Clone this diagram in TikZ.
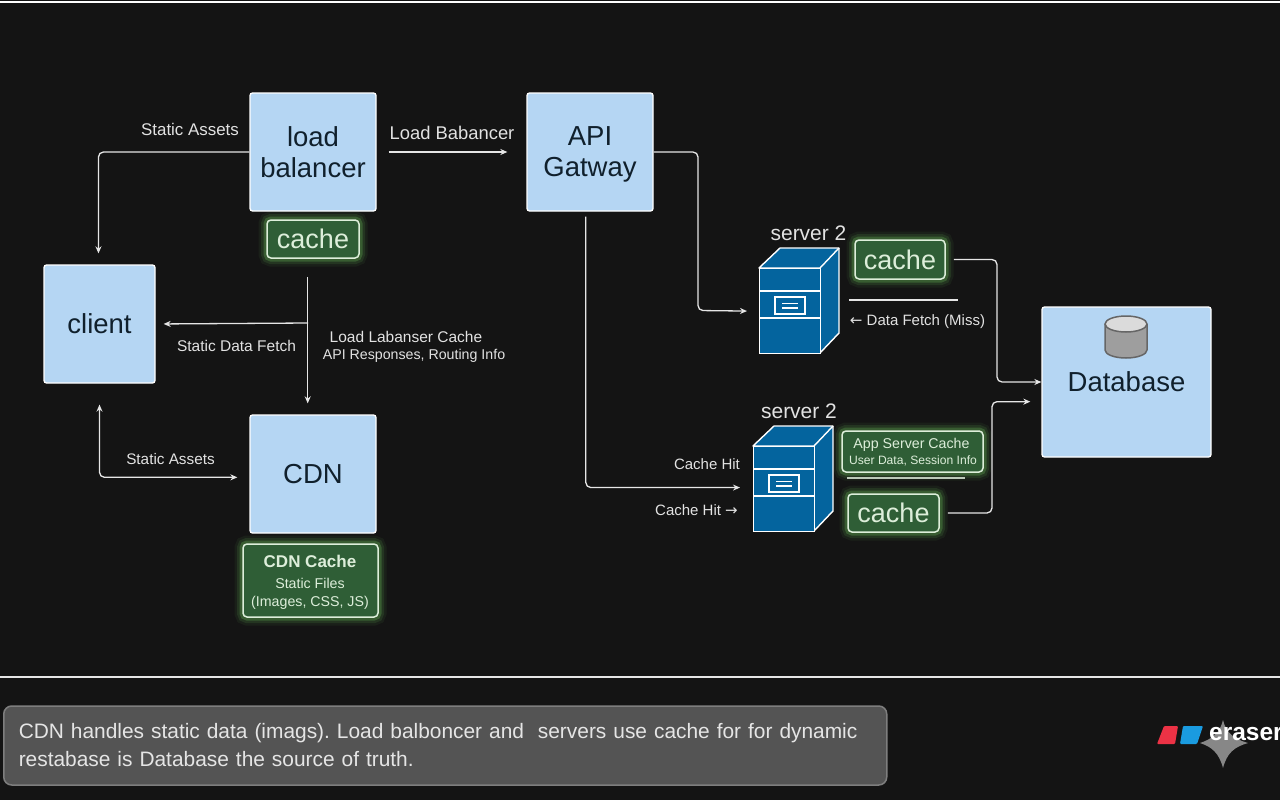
\documentclass[tikz,border=0pt]{standalone}
\usepackage{fontspec}
\setmainfont{Liberation Sans}
\newfontfamily\arrowfont{DejaVu Sans}
\usetikzlibrary{arrows.meta}
\definecolor{pagebg}{HTML}{141414}
\definecolor{boxblue}{HTML}{B5D6F3}
\definecolor{boxink}{HTML}{10202C}
\definecolor{cachegreen}{HTML}{2F5E36}
\definecolor{cacheline}{HTML}{DDEEDA}
\definecolor{glowgreen}{HTML}{6CC45C}
\definecolor{serverblue}{HTML}{04649E}
\definecolor{wirecol}{HTML}{E6E6E6}
\definecolor{labelcol}{HTML}{E2E2E2}
\definecolor{panelgray}{HTML}{545454}
\definecolor{panelline}{HTML}{7E7E7E}
\definecolor{logored}{HTML}{EC3245}
\definecolor{logoblue}{HTML}{1A9BE0}
\begin{document}
\begin{tikzpicture}[
    x=1pt, y=-1pt,
    service/.style={rectangle, draw=white, line width=1.3pt, fill=boxblue, rounded corners=2.5pt,
        text=boxink, align=center, inner sep=0pt, font=\fontsize{27.5}{31}\selectfont},
    cachebox/.style={rectangle, draw=cacheline, line width=1.5pt, fill=cachegreen, rounded corners=4pt,
        text=cacheline, align=center, inner sep=0pt, font=\fontsize{27}{31}\selectfont,
        preaction={draw=glowgreen, line width=17pt, opacity=.07},
        preaction={draw=glowgreen, line width=12pt, opacity=.13},
        preaction={draw=glowgreen, line width=7pt, opacity=.28}},
    serverbox/.style={rectangle, draw=white, line width=1.4pt, fill=serverblue, inner sep=0pt,
        minimum width=61pt, minimum height=85pt, anchor=north west},
    wire/.style={draw=wirecol, line width=1.3pt, rounded corners=5pt, -{Stealth[length=7pt,width=6pt]}},
    flowlabel/.style={text=labelcol, inner sep=0pt, font=\fontsize{15.5}{18}\selectfont},
    serverlabel/.style={text=labelcol, inner sep=0pt, font=\fontsize{21}{24}\selectfont},
    rulelabel/.style={draw=cacheline!85!black, line width=1.2pt},
]

% Page and frame lines
\fill[pagebg] (0,0) rectangle (1280,800);
\useasboundingbox (0,0) rectangle (1280,800);
\draw[white, line width=1.5pt] (0,2) -- (1280,2);
\draw[white!90!black, line width=1.5pt] (0,677) -- (1280,677);

% Blue service boxes
\node[service, minimum width=126pt, minimum height=118pt] (balancer) at (313,152) {load\\balancer};
\node[service, minimum width=126pt, minimum height=118pt, text depth=0pt] (gateway) at (590,152) {API\\Gatway};
\node[service, minimum width=111pt, minimum height=118pt] (client) at (99.5,324) {client};
\node[service, minimum width=126pt, minimum height=118pt] (cdn) at (313,474) {CDN};
\node[service, minimum width=169pt, minimum height=150pt] (database) at (1126.5,382) {Database};

% Database drum
\draw[draw=black!60, line width=1.5pt, fill=black!38] (1105,324) -- (1105,350)
    arc[start angle=180, end angle=0, x radius=21, y radius=8] -- (1147,324);
\draw[draw=black!60, line width=1.5pt, fill=black!14] (1126,324) ellipse (21 and 8);

% Green cache boxes
\node[cachebox, minimum width=92pt, minimum height=38pt] (lbcache) at (313,239) {cache};
\node[cachebox, minimum width=90pt, minimum height=39pt] (topcache) at (900,259.5) {cache};
\node[cachebox, minimum width=91pt, minimum height=38pt] (lowcache) at (893.5,513) {cache};
\node[cachebox, minimum width=135pt, minimum height=73pt] (cdncache) at (310.5,580.5) {};
\node[cachebox, minimum width=141pt, minimum height=41pt] (appcache) at (912.5,451.5) {};
\node[text=cacheline, inner sep=0pt, font=\bfseries\fontsize{17}{20}\selectfont] (cdntitle) at (310,561) {CDN Cache};
\node[text=cacheline, inner sep=0pt, align=center, font=\fontsize{14.2}{18.5}\selectfont] (cdnfiles) at (310,594) {Static Files\\(Images, CSS, JS)};
\node[text=cacheline, inner sep=0pt, font=\fontsize{14.2}{17}\selectfont] (apptitle) at (911.5,444.5) {App Server Cache};
\node[text=cacheline, inner sep=0pt, font=\fontsize{12.1}{15}\selectfont] (appinfo) at (913,461) {User Data, Session Info};

% Servers
\foreach \srv/\px/\py in {topserver/759/268, lowserver/753/446} {
    \begin{scope}[shift={(\px,\py)}]
        \draw[draw=white, line width=1.4pt, fill=serverblue, line join=round]
            (0,0) -- (21,-20) -- (80,-20) -- (80,65) -- (61,85) -- (61,0) -- cycle;
        \draw[draw=white, line width=1.4pt] (61,0) -- (80,-20);
        \node[serverbox] (\srv) at (0,0) {};
        \draw[white, line width=1.2pt] (0,23) -- (61,23) (0,50) -- (61,50);
        \draw[white, line width=1.2pt] (16,29) rectangle (46,46);
        \draw[white, line width=1.1pt] (23,35.5) -- (39,35.5) (23,40) -- (39,40);
    \end{scope}
}
\node[serverlabel] (toplabel) at (808.5,233) {server 2};
\node[serverlabel] (lowlabel) at (799,411) {server 2};

% Elbows
\coordinate (topelbow) at (698,310.5);
\coordinate (fetchjoin) at (308,323);
\coordinate (misselbow) at (997,300);
\coordinate (hitelbow) at (992,450);

% Connectors
\draw[wire, shorten >=11pt] (balancer.west) -| (client.91.5);
\draw[wire, shorten <=12pt, shorten >=19pt] (balancer.east) -- (gateway.west);
\draw[wire, shorten >=12pt] (gateway.east) -| (topelbow) -- (topserver.west);
\draw[wire, shorten <=5pt, shorten >=13pt] (gateway.-94) |- (lowserver.177);
\draw[wire, shorten <=18pt, shorten >=11pt] (lbcache.-105) -- (lbcache.-105 |- cdn.north);
\draw[wire, shorten >=8pt] (fetchjoin) -- (client.east);
\draw[wire, {Stealth[length=7pt,width=6pt]}-{Stealth[length=7pt,width=6pt]}, shorten <=21pt, shorten >=12pt] (client.south) |- (cdn.183);
\draw[wire, shorten <=8pt] (topcache.east) -| (misselbow) |- (database.west);
\draw[wire, shorten <=8pt, shorten >=11pt] (lowcache.east) -| (hitelbow) |- (database.193);

% Thin rules beside the caches
\coordinate (missrulea) at (849,300);
\coordinate (missruleb) at (958,300);
\coordinate (hitrulea) at (847,478);
\coordinate (hitruleb) at (965,478);
\draw[white!90!black, line width=1.3pt] (missrulea) -- (missruleb);
\draw[rulelabel] (hitrulea) -- (hitruleb);

% Connector labels
\node[flowlabel, font=\fontsize{16.9}{20}\selectfont] (assetstop) at (190,129.5) {Static Assets};
\node[flowlabel, font=\fontsize{18.4}{21}\selectfont] (lblabel) at (452,132.5) {Load Babancer};
\node[flowlabel] (fetchlabel) at (236.5,346) {Static Data Fetch};
\node[flowlabel] (cachelabel) at (406,337) {Load Labanser Cache};
\node[flowlabel, font=\fontsize{14.2}{17}\selectfont] (routelabel) at (414,356) {API Responses, Routing Info};
\node[flowlabel, font=\fontsize{15.3}{18}\selectfont] (assetslow) at (170.5,459) {Static Assets};
\node[flowlabel, font=\fontsize{15}{18}\selectfont] (misslabel) at (917.5,321.5) {{\arrowfont ←} Data Fetch (Miss)};
\node[flowlabel, font=\fontsize{15}{18}\selectfont] (hitlabel) at (707,464) {Cache Hit};
\node[flowlabel, font=\fontsize{15}{18}\selectfont] (hitarrow) at (696.5,510.5) {Cache Hit {\arrowfont →}};

% Caption panel
\node[rectangle, draw=panelline, line width=1.5pt, fill=panelgray, rounded corners=8pt, anchor=west,
    minimum width=883pt, minimum height=79pt, inner sep=0pt, text width=853pt, align=left,
    text=white!90!black, font=\frenchspacing\fontsize{20.9}{28}\selectfont] (caption) at (3,745.5)
    {CDN handles static data (imags). Load balboncer and\ \ servers use cache for for dynamic\\restabase is Database the source of truth.};

% Logo
\fill[white!53!black] (1223,720) .. controls (1226,733) and (1234,739) .. (1248,743)
    .. controls (1234,747) and (1227,753) .. (1223,768)
    .. controls (1219,753) and (1212,747) .. (1200,743)
    .. controls (1212,739) and (1220,733) .. (1223,720) -- cycle;
\fill[logored, rounded corners=1pt] (1164,726) -- (1178,726) -- (1175,744) -- (1157,744) -- cycle;
\fill[logoblue, rounded corners=1pt] (1183,726) -- (1203,726) -- (1197,744) -- (1180,744) -- cycle;
\node[anchor=west, text=white, inner sep=0pt, font=\bfseries\fontsize{24.5}{28}\selectfont] (logotext) at (1209,734) {eraser};

\end{tikzpicture}
\end{document}
